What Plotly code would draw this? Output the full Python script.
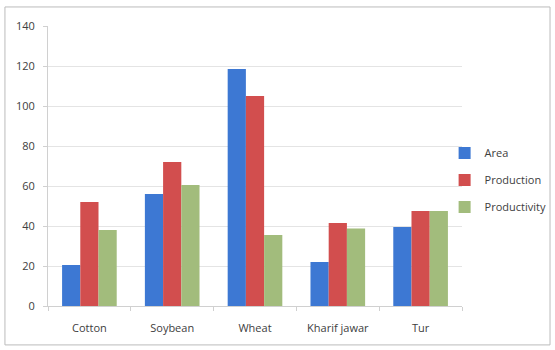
import plotly.graph_objects as go

categories = ["Cotton", "Soybean", "Wheat", "Kharif jawar", "Tur"]
area = [20.5, 56, 118.5, 22, 39.5]
production = [52, 72, 105, 41.5, 47.5]
productivity = [38, 60.5, 35.5, 38.8, 47.5]
y_ticks = [0, 20, 40, 60, 80, 100, 120, 140]

series = [("Area", area, "#3D78D3"), ("Production", production, "#D24E4E"), ("Productivity", productivity, "#A2BC7C")]

fig = go.Figure()
for name, vals, col in series:
    fig.add_trace(go.Bar(x=categories, y=vals, name=name, marker=dict(color=col, line=dict(width=0)),
                         legendgroup=name))

font = "Open Sans, Liberation Sans, sans-serif"
fig.update_layout(
    width=555, height=350,
    margin=dict(l=48, r=93, t=26, b=44, autoexpand=False),
    paper_bgcolor="white", plot_bgcolor="white",
    barmode="group", bargap=0.34, bargroupgap=0,
    font=dict(family=font, size=11, color="#404040"),
    showlegend=True,
    legend=dict(x=0.958, y=0.45, xanchor="left", yanchor="middle", tracegroupgap=8,
                font=dict(size=11, color="#404040"), itemwidth=30, bgcolor="rgba(0,0,0,0)"),
    shapes=[dict(type="rect", xref="paper", yref="paper", x0=-0.104, x1=1.2126, y0=-0.139, y1=1.068,
                 line=dict(color="#BBBBBB", width=1), layer="below")],
)
fig.update_yaxes(range=[0, 140], tickvals=y_ticks, gridcolor="#E4E4E4", gridwidth=1,
                 showline=True, linecolor="#D0D0D0", linewidth=1, zeroline=False,
                 ticks="outside", ticklen=4, tickcolor="#D0D0D0", ticklabelstandoff=6,
                 tickfont=dict(size=11, color="#404040"))
fig.update_xaxes(showline=True, linecolor="#D0D0D0", linewidth=1, ticks="outside", tickson="boundaries",
                 ticklen=4, tickcolor="#D0D0D0",
                 ticklabelstandoff=12, tickfont=dict(size=11, color="#404040"))

fig.write_html("out.html")
